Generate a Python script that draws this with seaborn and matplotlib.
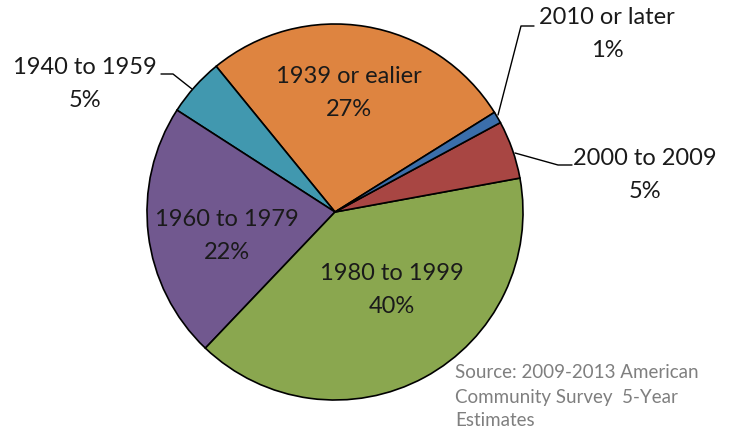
import numpy as np
import matplotlib.pyplot as plt
import seaborn as sns

sns.set_style("white")
plt.rcParams["font.family"] = ["Lato", "DejaVu Sans"]

# data, chronological (drawn counter-clockwise)
categories = ["1939 or ealier", "1940 to 1959", "1960 to 1979",
              "1980 to 1999", "2000 to 2009", "2010 or later"]
shares = [27, 5, 22, 40, 5, 1]
colors = ["#DE8440", "#4198AF", "#71588F", "#8AA74F", "#A84643", "#3B6EAA"]

W, H = 729, 433
fig = plt.figure(figsize=(W / 100, H / 100), dpi=100)
ax = fig.add_axes([0, 0, 1, 1])

cx, cy, r = 335, H - 212, 188
ax.pie(shares, colors=colors, startangle=32, counterclock=True,
       center=(cx, cy), radius=r, frame=True,
       wedgeprops=dict(edgecolor="black", linewidth=1.2))
ax.set_xlim(0, W)
ax.set_ylim(0, H)
ax.set_aspect("equal")
ax.axis("off")

fs = 17
ls = 1.65
lab = {c: f"{c}\n{v}%" for c, v in zip(categories, shares)}
kw = dict(ha="center", va="center", fontsize=fs, linespacing=ls, color="#1a1a1a")

# inside labels
ax.text(349, H - 93, lab["1939 or ealier"], **kw)
ax.text(227, H - 236, lab["1960 to 1979"], **kw)
ax.text(392, H - 290, lab["1980 to 1999"], **kw)

# outside labels with leader lines
ax.text(607, H - 34, lab["2010 or later"], **kw)
ax.plot([498, 521, 534], [H - 115, H - 26, H - 26], color="black", lw=1)

ax.text(645, H - 175, lab["2000 to 2009"], **kw)
ax.plot([515, 558, 572], [H - 153, H - 165, H - 165], color="black", lw=1)

ax.text(85, H - 84, lab["1940 to 1959"], **kw)
ax.plot([161, 173, 192], [H - 74, H - 74, H - 89], color="black", lw=1)

ax.text(455, H - 397, "Source: 2009-2013 American\nCommunity Survey  5-Year\nEstimates",
        ha="left", va="center", fontsize=13.5, color="#7F7F7F", linespacing=1.5)

fig.savefig("out.png", dpi=100)
